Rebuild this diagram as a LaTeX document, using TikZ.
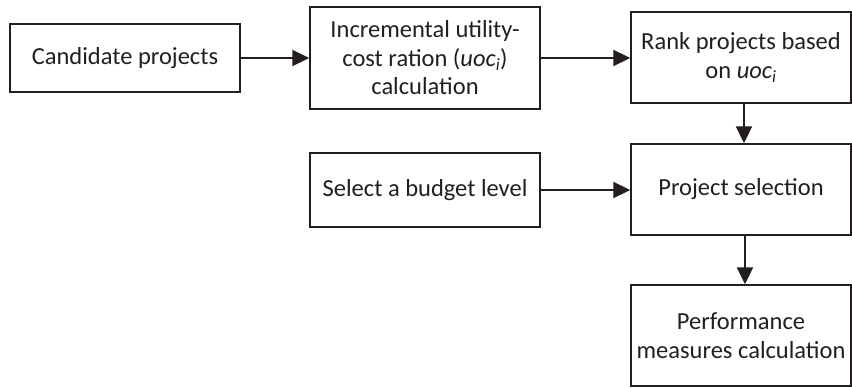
\documentclass[tikz,border=0pt]{standalone}
\usepackage{fontspec}
\setmainfont{Carlito}
\usetikzlibrary{arrows.meta}
\definecolor{ink}{HTML}{231F20}
\tikzset{
  box/.style={draw=ink, line width=1.4pt, fill=white, align=center, inner sep=2pt,
    text=ink, font=\fontsize{24.5}{28.5}\selectfont},
  arr/.style={draw=ink, line width=2pt, -{Triangle[length=17pt,width=16pt]}}
}
\newcommand{\uoc}{\textit{uoc}\textsubscript{\textit{i}}}
\begin{document}
\begin{tikzpicture}[x=1pt,y=-1pt]
  \useasboundingbox (0,0) rectangle (852,388);
  % process boxes
  \node[box, minimum width=230pt, minimum height=68pt]  (cand)   at (125,58)    {Candidate projects};
  \node[box, minimum width=230pt, minimum height=102pt] (incr)   at (425,58)    {Incremental utility-\\cost ration (\uoc)\\calculation};
  \node[box, minimum width=220pt, minimum height=91pt]  (rank)   at (741,57.5)  {Rank projects based\\on \uoc};
  \node[box, minimum width=230pt, minimum height=74pt]  (budget) at (425,190)   {Select a budget level};
  \node[box, minimum width=220pt, minimum height=91pt]  (sel)    at (741,189.5) {Project selection};
  \node[box, minimum width=220pt, minimum height=101pt] (perf)   at (741,335.5) {Performance\\measures calculation};
  % connectors
  \draw[arr] (cand.east) -- (incr.west);
  \draw[arr] (incr.east) -- (incr.east -| rank.west);
  \draw[arr] (budget.east) -- (budget.east -| sel.west);
  \draw[arr] ([xshift=3pt]rank.south) -- ([xshift=3pt]sel.north);
  \draw[arr] ([xshift=4pt]sel.south) -- ([xshift=4pt]perf.north);
\end{tikzpicture}
\end{document}
